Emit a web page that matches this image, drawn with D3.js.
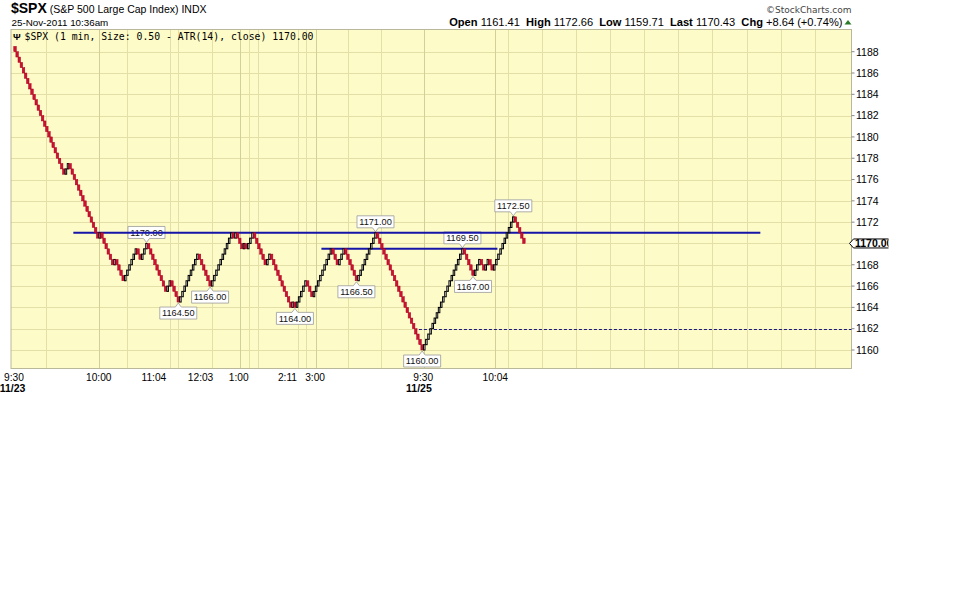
<!DOCTYPE html>
<html><head><meta charset="utf-8">
<script src="https://cdn.jsdelivr.net/npm/d3@7"></script>
<style>body{margin:0;background:#fff}svg{display:block}</style>
</head><body><svg id="c" width="960" height="600"></svg>
<script>
// ---- data ----
const boxSize = 0.5;
const startLevel = 1188.5;
// renko reversal levels (brick tops at highs, brick bottoms at lows)
const pivots = [1176.5, 1177.5, 1170.5, 1171.0, 1168.0, 1168.5, 1166.5, 1169.5, 1168.5, 1170.0,
  1165.5, 1166.5, 1164.5, 1169.0, 1166.0, 1171.0, 1170.5, 1171.0, 1169.5, 1170.0,
  1169.5, 1171.0, 1168.0, 1169.0, 1164.0, 1164.5, 1164.0, 1166.5, 1165.0, 1169.5,
  1168.0, 1169.5, 1166.5, 1171.0, 1160.0, 1169.5, 1167.0, 1168.5, 1167.5, 1168.5,
  1167.5, 1172.5, 1170.0];
// labelled pivots: index into pivots, side (-1 above, +1 below)
const labelPivots = [9, 12, 14, 26, 32, 33, 34, 35, 36, 41];
const labelSides  = [-1, 1, 1, 1, 1, -1, 1, -1, 1, -1];
const yTicks = [1160, 1162, 1164, 1166, 1168, 1170, 1172, 1174, 1176, 1178, 1180, 1182, 1184, 1186, 1188];
const timeLabels = ["9:30", "10:00", "11:04", "12:03", "1:00", "2:11", "3:00", "9:30", "10:04"];
const timeIdx    = [0, 40, 66, 88, 106, 129, 142, 193, 227];
const dateLabels = ["11/23", "11/25"];
const dateIdx    = [-0.7, 191];
const gridMinor  = [15.3, 53.2, 73.5, 77.5, 93.6, 110.7, 114.9, 134.1, 137.7, 157.5, 172.9, 232.8, 248.9, 265, 281.1, 297.3, 313.4, 329.4, 345.6, 361.8, 377.8];
const gridMajor  = [40.0, 106.6, 142.5, 193.2, 226.7];
// trend lines: level, from brick, to brick
const lineLevels = [1171.0, 1169.5];
const lineFrom   = [28, 145];
const lineTo     = [352, 228];
const dashLevel = 1162.0, dashFrom = 191;
const lastClose = 1170.00;
const quote = [["Open", "1161.41"], ["High", "1172.66"], ["Low", "1159.71"], ["Last", "1170.43"], ["Chg", "+8.64 (+0.74%)"]];

// ---- build bricks ----
const bricks = [], pivotBrick = [];
let level = startLevel;
pivots.forEach((p, k) => {
  const dir = p > level ? 1 : -1;
  while (Math.abs(p - level) > 1e-9) {
    const lo = dir > 0 ? level : level - boxSize;
    bricks.push({i: bricks.length, lo: lo, hi: lo + boxSize, up: dir > 0});
    level += dir * boxSize;
  }
  pivotBrick[k] = bricks.length - 1;
});

// ---- layout ----
const svg = d3.select("#c");
const L = 11, R = 851.5, T = 29.5, B = 368.5;
const x = d3.scaleLinear().domain([-1.4, 395]).range([L, R]);
const y = d3.scaleLinear().domain([1188, 1160]).range([51.7, 350]);
const bw = x(1) - x(0);
const sans = "'Liberation Sans', Arial, sans-serif";

svg.append("rect").attr("x", L).attr("y", T).attr("width", R - L).attr("height", B - T)
  .attr("fill", "#fdfbc8");

const g = svg.append("g");
g.selectAll("line.hy").data(yTicks).join("line")
  .attr("x1", L).attr("x2", R).attr("y1", d => Math.round(y(d)) + 0.5).attr("y2", d => Math.round(y(d)) + 0.5)
  .attr("stroke", "#e3dfa6").attr("stroke-width", 1);
g.selectAll("line.vmin").data(gridMinor).join("line")
  .attr("x1", d => Math.round(x(d)) + 0.5).attr("x2", d => Math.round(x(d)) + 0.5).attr("y1", T).attr("y2", B)
  .attr("stroke", "#e3dfa6").attr("stroke-width", 1);
svg.append("g").selectAll("line").data(gridMajor).join("line")
  .attr("x1", d => Math.round(x(d)) + 0.5).attr("x2", d => Math.round(x(d)) + 0.5).attr("y1", T).attr("y2", B)
  .attr("stroke", "#d3cf98").attr("stroke-width", 1);

// border
svg.append("rect").attr("x", L).attr("y", T).attr("width", R - L).attr("height", B - T)
  .attr("fill", "none").attr("stroke", "#b9b89a").attr("stroke-width", 1);

// pivot labels
const lab = svg.append("g");
labelPivots.forEach((k, j) => {
  const side = labelSides[j];
  const b = bricks[pivotBrick[k]];
  const cx = x(b.i + 0.5);
  const ay = side < 0 ? y(b.hi) : y(b.lo);
  const w = 37, h = 12;
  const x0 = cx - w / 2;
  let path;
  if (side < 0) {
    const by = ay - 5, ty = by - h;
    path = `M${x0},${ty}H${x0 + w}V${by}H${cx + 3}L${cx},${by + 4}L${cx - 3},${by}H${x0}Z`;
  } else {
    const ty = ay + 5, by = ty + h;
    path = `M${x0},${ty}H${cx - 3}L${cx},${ty - 4}L${cx + 3},${ty}H${x0 + w}V${by}H${x0}Z`;
  }
  lab.append("path").attr("d", path).attr("fill", "#fff").attr("stroke", "#9a9a9a").attr("stroke-width", 0.8);
  const cy = side < 0 ? ay - 5 - h / 2 : ay + 5 + h / 2;
  lab.append("text").attr("x", cx).attr("y", cy + 3.3).attr("text-anchor", "middle")
    .attr("font-family", sans).attr("font-size", 9.2).attr("fill", "#111")
    .text(d3.format(".2f")(pivots[k]));
});

// trend lines
lineLevels.forEach((v, j) => {
  svg.append("line").attr("x1", x(lineFrom[j])).attr("x2", x(lineTo[j]))
    .attr("y1", y(v)).attr("y2", y(v)).attr("stroke", "#1515a8").attr("stroke-width", 2);
});
svg.append("line").attr("x1", x(dashFrom)).attr("x2", R).attr("y1", Math.round(y(dashLevel)) + 0.5).attr("y2", Math.round(y(dashLevel)) + 0.5)
  .attr("stroke", "#1a1a80").attr("stroke-width", 1).attr("stroke-dasharray", "3,2");

// bricks
svg.append("g").selectAll("rect").data(bricks).join("rect")
  .attr("x", d => d.up ? x(d.i) + 0.3 : x(d.i) - 0.2)
  .attr("width", d => d.up ? bw - 0.6 : bw + 0.4)
  .attr("y", d => y(d.hi))
  .attr("height", d => y(d.lo) - y(d.hi))
  .attr("fill", d => d.up ? "#ffffff" : "#cc1133")
  .attr("stroke", d => d.up ? "#000000" : "#a8001e")
  .attr("stroke-width", d => d.up ? 1 : 0.5);

// right axis
const ax = svg.append("g");
ax.selectAll("line").data(yTicks).join("line")
  .attr("x1", R).attr("x2", R + 3).attr("y1", d => y(d)).attr("y2", d => y(d)).attr("stroke", "#888");
ax.selectAll("text").data(yTicks.filter(d => d !== 1170)).join("text")
  .attr("x", R + 4.5).attr("y", d => y(d) + 3.8)
  .attr("font-family", sans).attr("font-size", 10.5).attr("fill", "#000").text(d => d);
// last close marker
const ly = y(lastClose);
svg.append("defs").append("clipPath").attr("id", "lc").append("rect")
  .attr("x", R - 3).attr("y", ly - 8).attr("width", 40).attr("height", 16);
const lg = svg.append("g").attr("clip-path", "url(#lc)");
lg.append("path").attr("d", `M${R - 2},${ly}L${R + 2},${ly - 4.5}H${R + 38.5}V${ly + 4.5}H${R + 2}Z`)
  .attr("fill", "#fff").attr("stroke", "#000").attr("stroke-width", 1);
lg.append("text").attr("x", R + 3.5).attr("y", ly + 3.8).attr("font-family", sans)
  .attr("font-weight", "bold").attr("font-size", 10.5).text(d3.format(".2f")(lastClose));

// bottom axis
svg.append("g").selectAll("text").data(timeLabels).join("text")
  .attr("x", (d, i) => x(timeIdx[i])).attr("y", 381).attr("text-anchor", "middle")
  .attr("font-family", sans).attr("font-size", 10.2).text(d => d);
svg.append("g").selectAll("text").data(dateLabels).join("text")
  .attr("x", (d, i) => x(dateIdx[i])).attr("y", 392).attr("text-anchor", "middle")
  .attr("font-family", sans).attr("font-weight", "bold").attr("font-size", 10.5).text(d => d);

// header
const h1 = svg.append("text").attr("x", 11).attr("y", 13).attr("font-family", sans);
h1.append("tspan").attr("font-weight", "bold").attr("font-size", 14).text("$SPX");
h1.append("tspan").attr("font-size", 10.5).text(" (S&P 500 Large Cap Index) INDX");
svg.append("text").attr("x", 11.5).attr("y", 25.5).attr("font-family", sans).attr("font-size", 9.8)
  .text("25-Nov-2011 10:36am");
svg.append("text").attr("x", R).attr("y", 12.5).attr("text-anchor", "end").attr("font-family", "'DejaVu Sans', sans-serif")
  .attr("font-size", 9).attr("fill", "#444").text("\u00A9StockCharts.com");
const qt = svg.append("text").attr("x", R - 9).attr("y", 25.5).attr("text-anchor", "end")
  .attr("font-family", sans).attr("font-size", 11.1);
quote.forEach((q, i) => {
  qt.append("tspan").attr("font-weight", "bold").text((i ? "  " : "") + q[0]);
  qt.append("tspan").text(" " + q[1]);
});
qt.selectAll("tspan").attr("xml:space", "preserve");
svg.append("path").attr("d", `M${R - 7},${24.5}L${R - 3.5},${20}L${R},${24.5}Z`).attr("fill", "#2a7a2a");

// inside-plot caption
svg.append("text").attr("x", 13).attr("y", 40).attr("font-family", sans).attr("font-weight", "bold")
  .attr("font-size", 9.5).text("\u03A8");
svg.append("text").attr("x", 24.5).attr("y", 39.8).attr("font-family", "'DejaVu Sans Mono', monospace")
  .attr("font-size", 9.8).text("$SPX (1 min, Size: 0.50 - ATR(14), close) " + d3.format(".2f")(lastClose));
</script></body></html>
